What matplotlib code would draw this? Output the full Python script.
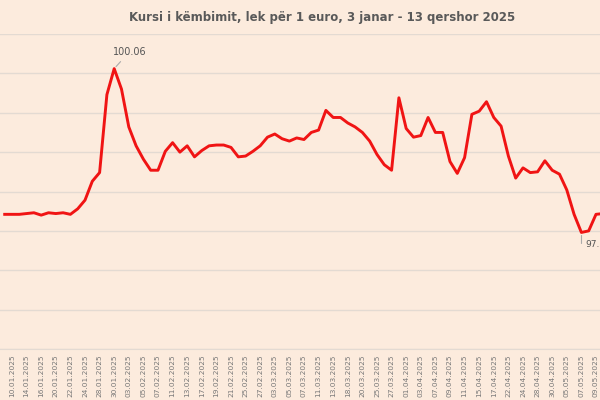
import matplotlib

matplotlib.use("Agg")
import matplotlib.pyplot as plt  # noqa: E402

# trading days (the visible part of the chart; the left/right are cropped)
DATES = [
    "09.01", "10.01", "13.01", "14.01", "15.01", "16.01", "17.01", "20.01", "21.01",
    "22.01", "23.01", "24.01", "27.01", "28.01", "29.01", "30.01", "31.01", "03.02",
    "04.02", "05.02", "06.02", "07.02", "10.02", "11.02", "12.02", "13.02", "14.02",
    "17.02", "18.02", "19.02", "20.02", "21.02", "24.02", "25.02", "26.02", "27.02",
    "28.02", "03.03", "04.03", "05.03", "06.03", "07.03", "10.03", "11.03", "12.03",
    "13.03", "17.03", "18.03", "19.03", "20.03", "21.03", "25.03", "26.03", "27.03",
    "28.03", "01.04", "02.04", "03.04", "04.04", "07.04", "08.04", "09.04", "10.04",
    "11.04", "14.04", "15.04", "16.04", "17.04", "18.04", "22.04", "23.04", "24.04",
    "25.04", "28.04", "29.04", "30.04", "02.05", "05.05", "06.05", "07.05", "08.05",
    "09.05", "12.05",
]
LEK_PER_EURO = [
    98.21, 98.21, 98.21, 98.22, 98.23, 98.20, 98.23, 98.22, 98.23, 98.21,
    98.28, 98.39, 98.63, 98.74, 99.73, 100.06, 99.80, 99.32, 99.08, 98.91,
    98.77, 98.77, 99.01, 99.12, 99.00, 99.08, 98.94, 99.02, 99.08, 99.09,
    99.09, 99.06, 98.94, 98.95, 99.01, 99.08, 99.19, 99.23, 99.17, 99.14,
    99.18, 99.16, 99.25, 99.28, 99.53, 99.44, 99.44, 99.37, 99.32, 99.25,
    99.14, 98.97, 98.84, 98.77, 99.69, 99.30, 99.19, 99.21, 99.44, 99.25,
    99.25, 98.88, 98.73, 98.93, 99.48, 99.52, 99.64, 99.44, 99.33, 98.95,
    98.67, 98.80, 98.74, 98.75, 98.89, 98.77, 98.72, 98.52, 98.21, 97.98,
    98.00, 98.21, 98.22,
]
TICK_LABELS = [d + ".2025" for d in DATES]
MAX_LABEL, MIN_LABEL = "100.06", "97.98"

BG = "#fcebdd"
x = list(range(len(LEK_PER_EURO)))

fig = plt.figure(figsize=(6, 4), dpi=100, facecolor=BG)
ax = fig.add_axes([0, 0.1275, 1, 0.7875], facecolor=BG)
ax.plot(x, LEK_PER_EURO, color="#f01414", lw=2.1, solid_joinstyle="round")

ax.set_ylim(96.5, 100.5)
ax.set_xlim(-0.644, 81.55)
ax.set_yticks([96.5 + 0.5 * k for k in range(9)])
ax.yaxis.grid(True, color="#e3dad2", lw=1)
ax.tick_params(axis="y", left=False, labelleft=False)
ax.set_xticks(x[1::2])
ax.set_xticklabels(TICK_LABELS[1::2], rotation=90, fontsize=5.3, color="#777777")
ax.tick_params(axis="x", length=0, pad=4)
for s in ("top", "left", "right"):
    ax.spines[s].set_visible(False)
ax.spines["bottom"].set_color("#e3dad2")

imax = LEK_PER_EURO.index(max(LEK_PER_EURO))
imin = LEK_PER_EURO.index(min(LEK_PER_EURO))
ax.annotate(MAX_LABEL, (imax, LEK_PER_EURO[imax]), xytext=(11, 10),
            textcoords="offset points", fontsize=7, color="#555555", ha="center",
            arrowprops=dict(arrowstyle="-", color="#aaaaaa", lw=0.8))
ax.annotate(MIN_LABEL, (imin, LEK_PER_EURO[imin]), xytext=(3, -9),
            textcoords="offset points", fontsize=6.5, color="#555555", ha="left",
            va="center",
            arrowprops=dict(arrowstyle="-", color="#aaaaaa", lw=0.8,
                            connectionstyle="angle,angleA=0,angleB=90"))

fig.text(0.537, 0.957, "Kursi i këmbimit, lek për 1 euro, 3 janar - 13 qershor 2025",
         ha="center", va="center", fontsize=8.5, fontweight="bold", color="#595959")
fig.savefig("out.png", dpi=100, facecolor=BG)
